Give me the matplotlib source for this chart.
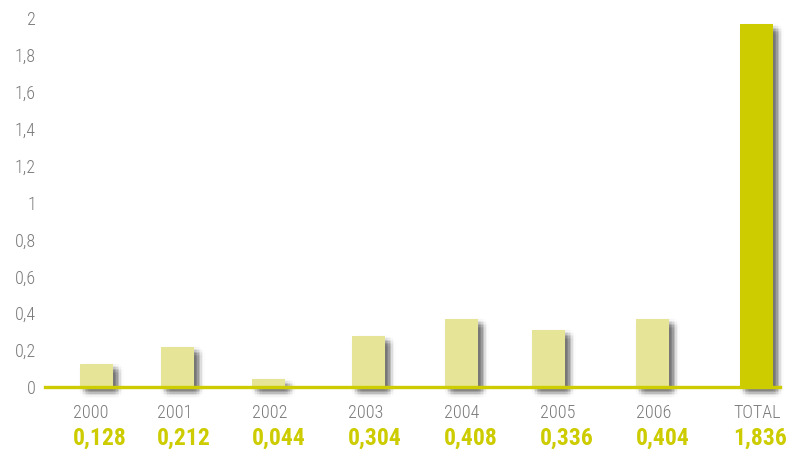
import math
import matplotlib
matplotlib.use("Agg")
import matplotlib.pyplot as plt
import matplotlib.patheffects as pe
from matplotlib.transforms import blended_transform_factory

# data
categories = ["2000", "2001", "2002", "2003", "2004", "2005", "2006", "TOTAL"]
bar_heights = [0.125, 0.217, 0.043, 0.276, 0.369, 0.309, 0.369, 1.967]
value_labels = ["0,128", "0,212", "0,044", "0,304", "0,408", "0,336", "0,404", "1,836"]
yticks = [0, 0.2, 0.4, 0.6, 0.8, 1, 1.2, 1.4, 1.6, 1.8, 2]
ytick_labels = ["0", "0,2", "0,4", "0,6", "0,8", "1", "1,2", "1,4", "1,6", "1,8", "2"]

# layout (x in pixel-like slot units, uneven spacing as in the original)
slots = [96.5, 177.5, 268.5, 368.5, 461.5, 548.5, 652.5, 756.5]
label_left = [73, 157, 252, 348, 444, 540, 636, 733]
bar_width = 33

pale = "#e6e597"
olive = "#cdcc00"
grey = "#7a7a7a"
narrow = ["Roboto Condensed", "PT Sans Narrow", "Archivo Narrow",
          "Barlow Condensed", "DejaVu Sans"]

W, H = 794, 450
fig = plt.figure(figsize=(W / 100, H / 100), dpi=100)
ax = fig.add_axes([45 / W, 63 / H, 735 / W, 369 / H])
ax.set_xlim(45, 780)
ax.set_ylim(0, 2)

# blurred drop shadow built from faint offset copies (offsets in points)
pt = 72 / 100
shadow = []
steps = [-6, -4.5, -3, -1.5, 0, 1.5, 3, 4.5, 6]
for dx in steps:
    for dy in steps:
        w = math.exp(-(dx * dx + dy * dy) / (2 * 2.8 ** 2))
        shadow.append(pe.SimplePatchShadow(offset=((5 + dx) * pt, -(5 + dy) * pt),
                                           shadow_rgbFace="black", alpha=0.032 * w))
shadow.append(pe.Normal())

colors = [pale] * (len(categories) - 1) + [olive]
bars = ax.bar(slots, bar_heights, width=bar_width, color=colors, zorder=2)
for b in bars:
    b.set_path_effects(shadow)
    b.set_clip_on(False)

ax.axhline(0, color=olive, lw=2.4, zorder=3, clip_on=False)

for s in ax.spines.values():
    s.set_visible(False)
ax.set_xticks([])
ax.set_yticks(yticks)
ax.set_yticklabels(ytick_labels, family=narrow, fontsize=13, color=grey, fontweight="light")
ax.tick_params(axis="y", length=0, pad=6.5)

tr = blended_transform_factory(ax.transData, ax.transAxes)
for x, cat, lab in zip(label_left, categories, value_labels):
    ax.text(x, -0.084, cat, transform=tr, ha="left", va="baseline",
            family=narrow, fontsize=13, color=grey, fontweight="light")
    ax.text(x, -0.157, lab, transform=tr, ha="left", va="baseline",
            family=narrow, fontsize=17, fontweight="bold", color=olive)

fig.savefig("out.png", dpi=100)
